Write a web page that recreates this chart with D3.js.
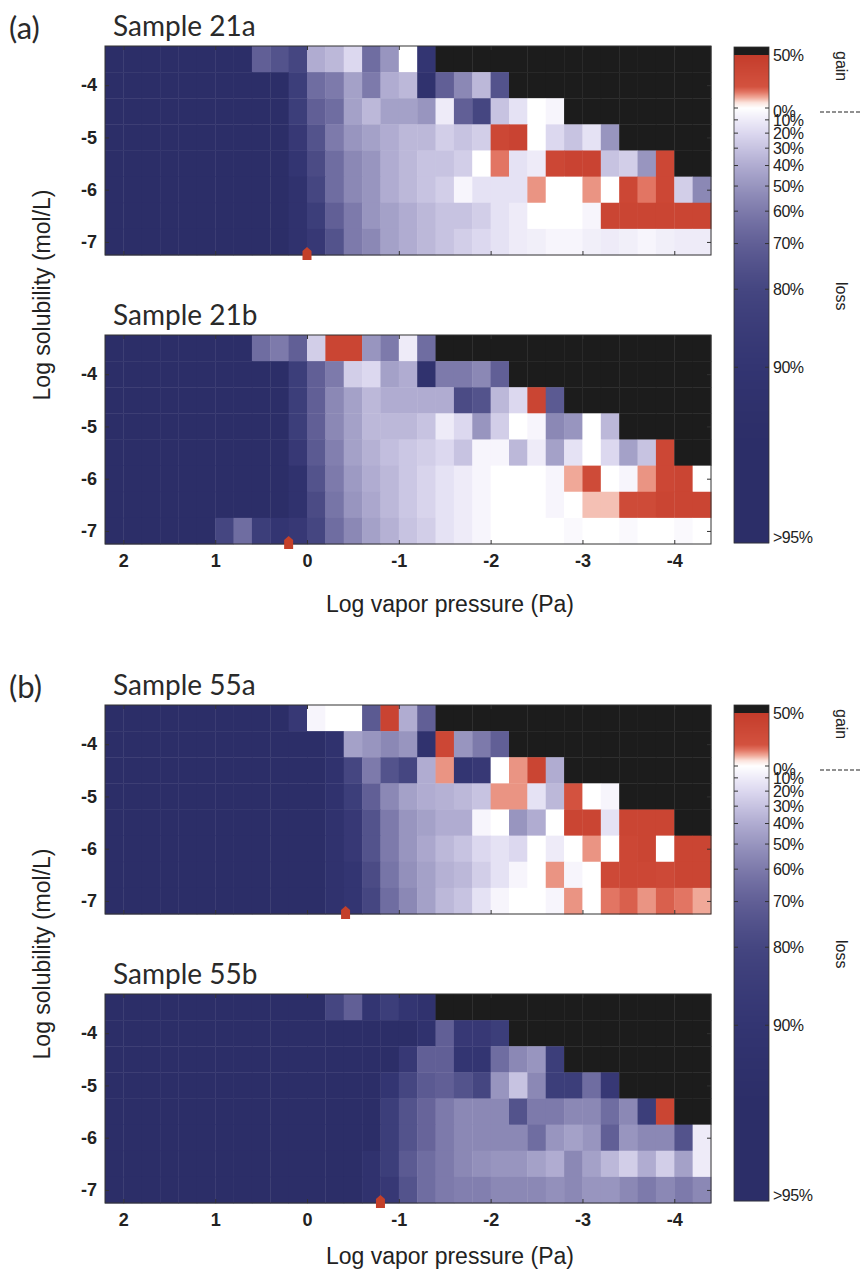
<!DOCTYPE html>
<html lang="en">
<head>
<meta charset="utf-8">
<title>Mass change vs vapor pressure and solubility</title>
<style>
   html,body { margin:0; padding:0; background:white; }
   svg { display:block; }
   .ttl { font-family:Lato, 'Open Sans', sans-serif; font-size:28px; fill:#2a2a2a; }
   .tk text { font:bold 18px 'Liberation Sans', Arial, sans-serif; fill:#222; }
   .tk line { stroke:#333; }
   .tk .domain { display:none; }
   .axt { font:23px 'Liberation Sans', Arial, sans-serif; fill:#222; }
   .cbl { font:16px 'Liberation Sans', Arial, sans-serif; fill:#222; letter-spacing:-0.5px; }
</style>
<script src="https://cdn.jsdelivr.net/npm/d3@7/dist/d3.min.js"></script>
</head>
<body>
<script>
// log vapor pressure (Pa), column centres, and log solubility (mol/L), row centres
const vpCols = [2.1,1.9,1.7,1.5,1.3,1.1,0.9,0.7,0.5,0.3,0.1,-0.1,-0.3,-0.5,-0.7,-0.9,-1.1,-1.3,-1.5,-1.7,-1.9,-2.1,-2.3,-2.5,-2.7,-2.9,-3.1,-3.3,-3.5,-3.7,-3.9,-4.1,-4.3];
const solRows = [-3.5,-4,-4.5,-5,-5.5,-6,-6.5,-7];
const xTicks = [2,1,0,-1,-2,-3,-4];
const yTicks = [-4,-5,-6,-7];
const titles = ['Sample 21a','Sample 21b','Sample 55a','Sample 55b'];
const markers = [0.0, 0.2, -0.42, -0.8]; // red arrow on the vapor pressure axis
const cbValues = [50,0,-10,-20,-30,-40,-50,-60,-70,-80,-90,-95];
const cbText = ['50%','0%','10%','20%','30%','40%','50%','60%','70%','80%','90%','>95%'];

// % mass change per cell: negative = loss, positive = gain, null = no data
const n = null;
const s21a = [
   [-95,-95,-95,-95,-95,-95,-95,-95,-70,-75,-80,-40,-35,-20,-65,-50,0,-90,n,n,n,n,n,n,n,n,n,n,n,n,n,n,n],
   [-95,-95,-95,-95,-95,-95,-95,-95,-95,-95,-85,-65,-60,-45,-60,-40,-35,-92,-70,-55,-35,-75,n,n,n,n,n,n,n,n,n,n,n],
   [-95,-95,-95,-95,-95,-95,-95,-95,-95,-95,-85,-70,-65,-45,-35,-45,-45,-50,-10,-70,-80,-30,-15,0,-5,n,n,n,n,n,n,n,n],
   [-95,-95,-95,-95,-95,-95,-95,-95,-95,-95,-88,-75,-60,-50,-45,-40,-35,-35,-25,-30,-25,35,40,0,-20,-30,-15,-50,n,n,n,n,n],
   [-95,-95,-95,-95,-95,-95,-95,-95,-95,-95,-90,-78,-65,-55,-50,-40,-35,-30,-30,-25,0,15,-15,-10,35,40,40,-30,-25,-50,35,n,n],
   [-95,-95,-95,-95,-95,-95,-95,-95,-95,-95,-92,-80,-65,-55,-50,-40,-35,-30,-25,-5,-15,-15,-15,12,0,0,12,0,35,15,35,-25,-55],
   [-95,-95,-95,-95,-95,-95,-95,-95,-95,-95,-92,-85,-70,-60,-50,-45,-40,-35,-30,-30,-25,-15,-10,0,0,0,-5,38,38,38,38,38,38],
   [-95,-95,-95,-95,-95,-95,-95,-95,-95,-95,-92,-88,-75,-60,-55,-45,-40,-35,-30,-25,-20,-15,-10,-8,-5,-5,-8,-10,-8,-5,-8,-10,-10]
];
const s21b = [
   [-95,-95,-95,-95,-95,-95,-95,-95,-65,-60,-70,-25,38,38,-50,-60,-10,-65,n,n,n,n,n,n,n,n,n,n,n,n,n,n,n],
   [-95,-95,-95,-95,-95,-95,-95,-95,-95,-95,-85,-70,-60,-25,-20,-45,-40,-92,-60,-60,-55,-70,n,n,n,n,n,n,n,n,n,n,n],
   [-95,-95,-95,-95,-95,-95,-95,-95,-95,-95,-85,-70,-55,-45,-35,-40,-40,-40,-40,-78,-75,-35,-20,38,-72,n,n,n,n,n,n,n,n],
   [-95,-95,-95,-95,-95,-95,-95,-95,-95,-95,-85,-70,-55,-45,-35,-35,-35,-30,-10,-20,-50,-25,0,-5,-55,-50,0,-35,n,n,n,n,n],
   [-95,-95,-95,-95,-95,-95,-95,-95,-95,-95,-88,-72,-58,-45,-38,-32,-28,-25,-20,-30,-5,-5,-35,-10,-45,-15,0,-20,-45,-30,35,n,n],
   [-95,-95,-95,-95,-95,-95,-95,-95,-95,-95,-92,-75,-60,-48,-40,-35,-28,-22,-15,-10,-5,0,0,0,-5,10,30,0,-5,12,35,38,0],
   [-95,-95,-95,-95,-95,-95,-95,-95,-95,-95,-92,-78,-62,-50,-42,-35,-28,-22,-15,-10,-5,0,0,0,-5,0,8,8,30,30,38,38,38],
   [-95,-95,-95,-95,-95,-95,-80,-65,-85,-90,-88,-80,-65,-55,-45,-38,-30,-25,-15,-10,-5,0,0,0,0,-3,0,0,-3,0,0,-3,0]
];
const s55a = [
   [-95,-95,-95,-95,-95,-95,-95,-95,-95,-95,-88,-5,0,0,-72,40,-40,-70,n,n,n,n,n,n,n,n,n,n,n,n,n,n,n],
   [-95,-95,-95,-95,-95,-95,-95,-95,-95,-95,-95,-95,-92,-45,-50,-55,-50,-92,35,-50,-60,-70,n,n,n,n,n,n,n,n,n,n,n],
   [-95,-95,-95,-95,-95,-95,-95,-95,-95,-95,-95,-95,-92,-80,-60,-75,-80,-40,12,-90,-88,0,12,38,-40,n,n,n,n,n,n,n,n],
   [-95,-95,-95,-95,-95,-95,-95,-95,-95,-95,-95,-95,-92,-85,-70,-55,-45,-40,-38,-35,-30,12,12,-15,-35,20,0,-5,n,n,n,n,n],
   [-95,-95,-95,-95,-95,-95,-95,-95,-95,-95,-95,-95,-92,-88,-75,-60,-50,-45,-40,-40,-5,0,-50,-40,0,38,38,-15,38,38,38,n,n],
   [-95,-95,-95,-95,-95,-95,-95,-95,-95,-95,-95,-95,-92,-88,-75,-60,-50,-42,-35,-30,-20,-15,-20,0,-10,0,12,0,35,38,0,38,38],
   [-95,-95,-95,-95,-95,-95,-95,-95,-95,-95,-95,-95,-92,-90,-78,-62,-52,-45,-38,-35,-25,-15,-5,0,12,-5,0,32,35,35,32,38,38],
   [-95,-95,-95,-95,-95,-95,-95,-95,-95,-95,-95,-95,-92,-90,-80,-65,-55,-45,-35,-30,-15,-5,0,0,-5,12,0,15,18,12,18,15,10]
];
const s55b = [
   [-95,-95,-95,-95,-95,-95,-95,-95,-95,-95,-95,-95,-80,-70,-90,-85,-90,-92,n,n,n,n,n,n,n,n,n,n,n,n,n,n,n],
   [-95,-95,-95,-95,-95,-95,-95,-95,-95,-95,-95,-95,-95,-95,-95,-95,-95,-92,-70,-88,-88,-85,n,n,n,n,n,n,n,n,n,n,n],
   [-95,-95,-95,-95,-95,-95,-95,-95,-95,-95,-95,-95,-95,-95,-95,-95,-88,-70,-70,-90,-90,-65,-55,-50,-85,n,n,n,n,n,n,n,n],
   [-95,-95,-95,-95,-95,-95,-95,-95,-95,-95,-95,-95,-95,-95,-95,-90,-80,-72,-70,-75,-80,-50,-30,-55,-85,-85,-65,-88,n,n,n,n,n],
   [-95,-95,-95,-95,-95,-95,-95,-95,-95,-95,-95,-95,-95,-95,-95,-85,-75,-68,-60,-55,-55,-55,-75,-60,-60,-55,-55,-65,-55,-85,38,n,n],
   [-95,-95,-95,-95,-95,-95,-95,-95,-95,-95,-95,-95,-95,-95,-95,-85,-75,-68,-60,-55,-55,-55,-55,-65,-50,-45,-50,-70,-50,-55,-55,-75,-10],
   [-95,-95,-95,-95,-95,-95,-95,-95,-95,-95,-95,-95,-95,-95,-92,-85,-72,-65,-60,-55,-52,-50,-50,-45,-40,-55,-45,-35,-25,-40,-25,-45,-10],
   [-95,-95,-95,-95,-95,-95,-95,-95,-95,-95,-95,-95,-95,-95,-92,-88,-75,-65,-60,-58,-58,-55,-55,-55,-52,-55,-50,-50,-55,-60,-55,-60,-55]
];
const samples = [s21a, s21b, s55a, s55b];

// layout
const W = 861, H = 1270;
const px0 = 105, px1 = 711, ph = 209;
const panelTop = [46, 335, 705, 994];
const xTitleY = [null, 612, null, 1264];
const cbTop = [47, 705];
const cbx0 = 734, cbx1 = 769;

const lossStops = [[0,'#ffffff'],[10,'#eeebf8'],[20,'#dcd8ef'],[30,'#c7c3e1'],[40,'#b0acd1'],[50,'#9895bf'],[60,'#7d7aab'],[70,'#615f96'],[80,'#454681'],[90,'#333572'],[95,'#2c2e68']];
const gainStops = [[0,'#ffffff'],[5,'#fbe3dd'],[10,'#f0a898'],[15,'#e27563'],[20,'#d3523f'],[50,'#c43c2b']];
const lossColor = d3.scaleLinear().domain(lossStops.map(d => d[0])).range(lossStops.map(d => d[1])).clamp(true);
const gainColor = d3.scaleLinear().domain(gainStops.map(d => d[0])).range(gainStops.map(d => d[1])).clamp(true);
function fcolor(v) {
   if (v === null) { return '#1c1c1c'; };
   return v >= 0 ? gainColor(v) : lossColor(-v);
};

const svg = d3.select('body').append('svg').attr('width', W).attr('height', H);

const x = d3.scaleLinear().domain([2.2, -4.4]).range([px0, px1]);

function fpanel(i) {
   let top = panelTop[i], bot = top + ph;
   let y = d3.scaleLinear().domain([-3.25, -7.25]).range([top, bot]);
   let cw = Math.abs(x(0.2) - x(0)), rh = Math.abs(y(-4.5) - y(-4));
   let cells = [];
   samples[i].forEach((row, r) => row.forEach((v, c) => cells.push({vp:vpCols[c], sol:solRows[r], v:v})));
   let g = svg.append('g');
   g.selectAll('rect').data(cells).join('rect')
      .attr('x', d => x(d.vp + 0.1))
      .attr('y', d => y(d.sol + 0.25))
      .attr('width', cw + 0.4)
      .attr('height', rh + 0.4)
      .attr('fill', d => fcolor(d.v));
   g.append('rect').attr('x', px0).attr('y', top).attr('width', px1 - px0).attr('height', ph)
      .attr('fill', 'none').attr('stroke', '#333').attr('stroke-width', 1);
   let showX = (i % 2 === 1);
   svg.append('g').attr('class', 'tk').attr('transform', `translate(0,${bot})`)
      .call(d3.axisBottom(x).tickValues(xTicks).tickSize(-4).tickPadding(10).tickFormat(d => showX ? String(d) : ''));
   svg.append('g').attr('class', 'tk').attr('transform', `translate(0,${top})`)
      .call(d3.axisTop(x).tickValues(xTicks).tickSize(-4).tickFormat(''));
   svg.append('g').attr('class', 'tk').attr('transform', `translate(${px0},0)`)
      .call(d3.axisLeft(y).tickValues(yTicks).tickSize(-4).tickPadding(8).tickFormat(d => String(d)));
   svg.append('g').attr('class', 'tk').attr('transform', `translate(${px1},0)`)
      .call(d3.axisRight(y).tickValues(yTicks).tickSize(-4).tickFormat(''));
   // red arrow marker
   let mx = x(markers[i]);
   svg.append('path')
      .attr('d', `M${mx},${bot-8} L${mx+4.5},${bot-4} L${mx+4.5},${bot+5} L${mx-4.5},${bot+5} L${mx-4.5},${bot-4} Z`)
      .attr('fill', '#c4402a');
   svg.append('text').attr('class', 'ttl').attr('x', 113).attr('y', top - 10).text(titles[i]);
   if (showX) {
      svg.append('text').attr('class', 'axt').attr('x', 450).attr('y', xTitleY[i])
         .attr('text-anchor', 'middle').text('Log vapor pressure (Pa)');
   };
};

function fcolorbar(j) {
   let top = cbTop[j];
   let y50 = top + 8, y0 = top + 61, yb = top + 496;
   let gpos = d3.scaleLinear().domain([0, 50]).range([y0, y50]);
   let lpos = d3.scaleLog().domain([1, 0.021]).range([y0, yb]); // remaining mass fraction
   let fpos = v => v >= 0 ? gpos(v) : lpos(1 + v / 100);
   let g = svg.append('g');
   g.append('rect').attr('x', cbx0).attr('y', top).attr('width', cbx1 - cbx0).attr('height', y50 - top).attr('fill', '#1c1c1c');
   let ramp = d3.range(y50, yb, 1).map(py => py < y0 ? gpos.invert(py + 0.5) : -100 * (1 - lpos.invert(py + 0.5)));
   g.selectAll('rect.rmp').data(ramp).join('rect').attr('class', 'rmp')
      .attr('x', cbx0).attr('y', (d, k) => y50 + k).attr('width', cbx1 - cbx0).attr('height', 1.2)
      .attr('fill', d => fcolor(d));
   g.append('rect').attr('x', cbx0).attr('y', top).attr('width', cbx1 - cbx0).attr('height', yb - top)
      .attr('fill', 'none').attr('stroke', '#333').attr('stroke-width', 0.8);
   cbValues.forEach((v, k) => {
      let py = v === 50 ? fpos(v) : v === 0 ? y0 + 3 : v === -95 ? yb - 6 : fpos(v);
      g.append('text').attr('class', 'cbl').attr('x', cbx1 + 4).attr('y', py).attr('dy', '0.36em').text(cbText[k]);
      if (v <= 0 && v > -95) {
         let ty = fpos(v);
         g.append('line').attr('x1', cbx0).attr('x2', cbx0 + 4).attr('y1', ty).attr('y2', ty).attr('stroke', '#333');
         g.append('line').attr('x1', cbx1 - 4).attr('x2', cbx1).attr('y1', ty).attr('y2', ty).attr('stroke', '#333');
      };
   });
   g.append('text').attr('class', 'cbl').attr('transform', `translate(836,${top + 4}) rotate(90)`).style('letter-spacing', '0px').text('gain');
   g.append('text').attr('class', 'cbl').attr('transform', `translate(836,${top + 235}) rotate(90)`).style('letter-spacing', '0px').text('loss');
   g.append('line').attr('x1', 820).attr('x2', 861).attr('y1', y0 + 4).attr('y2', y0 + 4)
      .attr('stroke', '#222').attr('stroke-width', 1.2).attr('stroke-dasharray', '4,2');
};

[0, 1, 2, 3].forEach(fpanel);
[0, 1].forEach(fcolorbar);

// panel letters and y titles
svg.append('text').attr('class', 'ttl').style('font-size', '31px').attr('x', 9).attr('y', 39).text('(a)');
svg.append('text').attr('class', 'ttl').style('font-size', '31px').attr('x', 9).attr('y', 698).text('(b)');
[[panelTop[0], panelTop[1] + ph], [panelTop[2], panelTop[3] + ph]].forEach(p => {
   svg.append('text').attr('class', 'axt').attr('text-anchor', 'middle')
      .attr('transform', `translate(50,${(p[0] + p[1]) / 2}) rotate(-90)`)
      .text('Log solubility (mol/L)');
});
</script>
</body>
</html>
